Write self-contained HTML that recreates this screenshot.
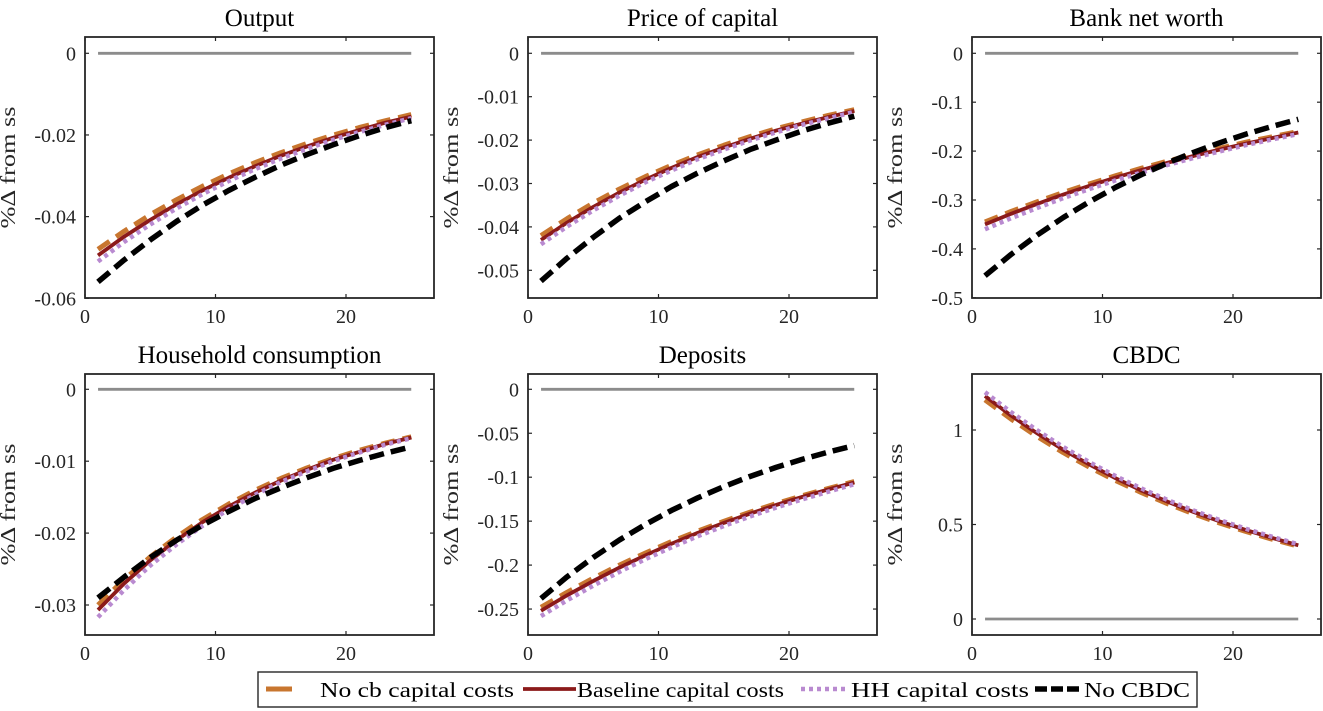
<!DOCTYPE html>
<html><head><meta charset="utf-8"><style>
html,body{margin:0;padding:0;background:#fff;}
svg{display:block;font-family:"Liberation Serif",serif;}
</style></head><body>
<svg id="c" width="1323" height="711" viewBox="0 0 1323 711"></svg>
<script>
const periods=[1,3,5,7,9,11,13,15,17,19,21,23,25];
const outputNoCb=[-.048,-.04357,-.03954,-.03589,-.03257,-.02956,-.02683,-.02435,-.0221,-.02006,-.0182,-.01652,-.015];
const outputBase=[-.0495,-.0449,-.0408,-.037,-.0336,-.0305,-.0277,-.0251,-.0228,-.0207,-.0188,-.017,-.0155];
const outputHH=[-.051,-.0462,-.0419,-.038,-.0345,-.0313,-.0284,-.0258,-.0234,-.0212,-.0193,-.0175,-.0159];
const outputNoCBDC=[-.056,-.0506,-.0457,-.0412,-.0372,-.0336,-.0304,-.0274,-.0248,-.0224,-.0202,-.0182,-.0165];
const priceNoCb=[-.042,-.0381,-.0345,-.0313,-.0284,-.0258,-.0234,-.0212,-.0192,-.0174,-.0158,-.0143,-.013];
const priceBase=[-.043,-.039,-.0354,-.0321,-.0291,-.0264,-.0239,-.0217,-.0197,-.0178,-.0162,-.0147,-.0133];
const priceHH=[-.044,-.0399,-.0362,-.0328,-.0297,-.027,-.0244,-.0222,-.0201,-.0182,-.0165,-.015,-.0135];
const priceNoCBDC=[-.0525,-.0472,-.0424,-.038,-.0342,-.0307,-.0276,-.0248,-.0222,-.02,-.0179,-.0161,-.0145];
const nwNoCb=[-.345,-.3236,-.3035,-.2847,-.2671,-.2505,-.235,-.2204,-.2068,-.194,-.1819,-.1707,-.16];
const nwBase=[-.35,-.3283,-.308,-.2889,-.271,-.2542,-.2385,-.2237,-.2098,-.1968,-.1846,-.1732,-.162];
const nwHH=[-.36,-.3373,-.3161,-.2962,-.2775,-.26,-.2436,-.2283,-.2139,-.2004,-.1878,-.176,-.165];
const nwNoCBDC=[-.455,-.4112,-.3716,-.3358,-.3035,-.2743,-.2478,-.224,-.2024,-.1829,-.1653,-.1494,-.135];
const consNoCb=[-.03,-.02645,-.02331,-.02055,-.01812,-.01597,-.01408,-.01241,-.01094,-.00964,-.0085,-.00749,-.0066];
const consBase=[-.0307,-.027,-.0238,-.021,-.0185,-.0163,-.0144,-.0127,-.0112,-.0098,-.0087,-.0076,-.0067];
const consHH=[-.0317,-.0279,-.0245,-.0216,-.019,-.0167,-.0147,-.0129,-.0114,-.01,-.0088,-.0077,-.0068];
const consNoCBDC=[-.029,-.0261,-.0234,-.021,-.0189,-.017,-.0152,-.0137,-.0123,-.011,-.0099,-.0089,-.008];
const depNoCb=[-.248,-.2309,-.2149,-.2,-.1862,-.1733,-.1614,-.1502,-.1398,-.1302,-.1212,-.1128,-.105];
const depBase=[-.252,-.2344,-.2181,-.2029,-.1888,-.1757,-.1634,-.152,-.1415,-.1316,-.1225,-.1139,-.106];
const depHH=[-.258,-.24,-.2233,-.2077,-.1932,-.1797,-.1672,-.1555,-.1447,-.1346,-.1252,-.1165,-.108];
const depNoCBDC=[-.238,-.2133,-.1912,-.1714,-.1537,-.1378,-.1235,-.1107,-.0992,-.0889,-.0797,-.0715,-.064];
const cbdcNoCb=[1.16,1.058,.9653,.8805,.8032,.7327,.6684,.6097,.5562,.5073,.4628,.4222,.385];
const cbdcBase=[1.18,1.076,.9818,.8955,.8168,.745,.6796,.6199,.5654,.5157,.4704,.429,.39];
const cbdcHH=[1.2,1.094,.9978,.9099,.8297,.7566,.69,.6292,.5738,.5232,.4771,.4351,.395];
const titles=["Output","Price of capital","Bank net worth","Household consumption","Deposits","CBDC"];
const yTicks1=[0,-0.02,-0.04,-0.06], yTickLabels1=["0","-0.02","-0.04","-0.06"];
const yTicks2=[0,-0.01,-0.02,-0.03,-0.04,-0.05], yTickLabels2=["0","-0.01","-0.02","-0.03","-0.04","-0.05"];
const yTicks3=[0,-0.1,-0.2,-0.3,-0.4,-0.5], yTickLabels3=["0","-0.1","-0.2","-0.3","-0.4","-0.5"];
const yTicks4=[0,-0.01,-0.02,-0.03], yTickLabels4=["0","-0.01","-0.02","-0.03"];
const yTicks5=[0,-0.05,-0.1,-0.15,-0.2,-0.25], yTickLabels5=["0","-0.05","-0.1","-0.15","-0.2","-0.25"];
const yTicks6=[0,0.5,1], yTickLabels6=["0","0.5","1"];
const xTicks=[0,10,20], xTickLabels=["0","10","20"];

const NS="http://www.w3.org/2000/svg", svg=document.getElementById('c');
function mk(tag,attrs,parent){const e=document.createElementNS(NS,tag);for(const k in attrs)e.setAttribute(k,attrs[k]);(parent||svg).appendChild(e);return e;}
const styles={
 nocb:{stroke:"#c8762f",w:5,dash:"14 8"},
 base:{stroke:"#8b1a1a",w:3.8,dash:""},
 hh:{stroke:"#b98ad0",w:4.5,dash:"4 4"},
 nocbdc:{stroke:"#000",w:5.5,dash:"15 7"}
};
const panels=[
 {l:85,t:37,b:298,p0:53.3,ppu:4083,yt:yTicks1,yl:yTickLabels1,s:[outputNoCb,outputBase,outputHH,outputNoCBDC]},
 {l:528,t:37,b:298,p0:53.3,ppu:4340,yt:yTicks2,yl:yTickLabels2,s:[priceNoCb,priceBase,priceHH,priceNoCBDC]},
 {l:972,t:37,b:298,p0:53.3,ppu:489,yt:yTicks3,yl:yTickLabels3,s:[nwNoCb,nwBase,nwHH,nwNoCBDC]},
 {l:85,t:374,b:635,p0:389.3,ppu:7190,yt:yTicks4,yl:yTickLabels4,s:[consNoCb,consBase,consHH,consNoCBDC]},
 {l:528,t:374,b:635,p0:389.3,ppu:879,yt:yTicks5,yl:yTickLabels5,s:[depNoCb,depBase,depHH,depNoCBDC]},
 {l:972,t:374,b:635,p0:619,ppu:189,yt:yTicks6,yl:yTickLabels6,s:[cbdcNoCb,cbdcBase,cbdcHH,null]}
];
const W=349, xs=13.05;
const keys=["nocb","base","hh","nocbdc"];
const names=["no-cb-capital-costs-line","baseline-capital-costs-line","hh-capital-costs-line","no-cbdc-line"];
panels.forEach((p,i)=>{
 const g=mk('g',{});
 
 
 const X=v=>p.l+v*xs, Y=v=>p.p0-v*p.ppu;
 const tt=mk('text',{x:p.l+W/2,y:p.t-11,'text-anchor':'middle','font-size':25,fill:'#000'},g);tt.textContent=titles[i];
 
 
 const z=mk('line',{x1:X(1),x2:X(25),y1:Y(0),y2:Y(0),stroke:'#8c8c8c','stroke-width':2.8},g);
 
 
 p.s.forEach((arr,k)=>{
  if(!arr)return;
  const st=styles[keys[k]];
  const d=arr.map((v,j)=>(j?'L':'M')+X(periods[j]).toFixed(1)+','+Y(v).toFixed(1)).join('');
  const pa=mk('path',{d:d,fill:'none',stroke:st.stroke,'stroke-width':st.w,'stroke-dasharray':st.dash,'stroke-linejoin':'round'},g);
  
  
 });
 const bx=mk('rect',{x:p.l,y:p.t,width:W,height:p.b-p.t,fill:'none',stroke:'#262626','stroke-width':1.8},g);
 
 
 p.yt.forEach((v,j)=>{
  const y=Y(v);
  mk('line',{x1:p.l,x2:p.l+4,y1:y,y2:y,stroke:'#262626','stroke-width':1.2},g);
  mk('line',{x1:p.l+W-4,x2:p.l+W,y1:y,y2:y,stroke:'#262626','stroke-width':1.2},g);
  const t=mk('text',{x:p.l-9,y:y+7,'text-anchor':'end','font-size':20,fill:'#262626'},g);t.textContent=p.yl[j];
  
  
 });
 xTicks.forEach((v,j)=>{
  const x=X(v);
  mk('line',{x1:x,x2:x,y1:p.b,y2:p.b-4,stroke:'#262626','stroke-width':1.2},g);
  mk('line',{x1:x,x2:x,y1:p.t,y2:p.t+4,stroke:'#262626','stroke-width':1.2},g);
  const t=mk('text',{x:x,y:p.b+25,'text-anchor':'middle','font-size':20,fill:'#262626'},g);t.textContent=xTickLabels[j];
  
  
 });
 const cy=(p.t+p.b)/2, lx=p.l-70;
 const yl=mk('text',{x:0,y:0,transform:`translate(${lx},${cy}) rotate(-90)`,'text-anchor':'middle','font-size':21,fill:'#262626',textLength:122,lengthAdjust:'spacingAndGlyphs'},g);
 yl.textContent='%Δ from ss';
 
 
});
const lg=mk('g',{});


mk('rect',{x:258,y:672,width:939,height:35,fill:'#fff',stroke:'#262626','stroke-width':1.4},lg);
const legItems=[
 {k:"nocb",x1:266,x2:292,tx:320,tl:194,label:"No cb capital costs"},
 {k:"base",x1:523,x2:576,tx:577,tl:207,label:"Baseline capital costs"},
 {k:"hh",x1:801,x2:846,tx:851,tl:178,label:"HH capital costs"},
 {k:"nocbdc",x1:1035,x2:1080,tx:1084,tl:106,label:"No CBDC"}];
legItems.forEach(it=>{
 const st=styles[it.k];
 const e=mk('g',{},lg);
 
 
 mk('line',{x1:it.x1,x2:it.x2,y1:689,y2:689,stroke:st.stroke,'stroke-width':st.w,'stroke-dasharray':it.k==='nocb'?'':(it.k==='nocbdc'?'12 4':st.dash)},e);
 const t=mk('text',{x:it.tx,y:697,'font-size':21,fill:'#000',textLength:it.tl,lengthAdjust:'spacingAndGlyphs'},e);t.textContent=it.label;
});
</script>
</body></html>
